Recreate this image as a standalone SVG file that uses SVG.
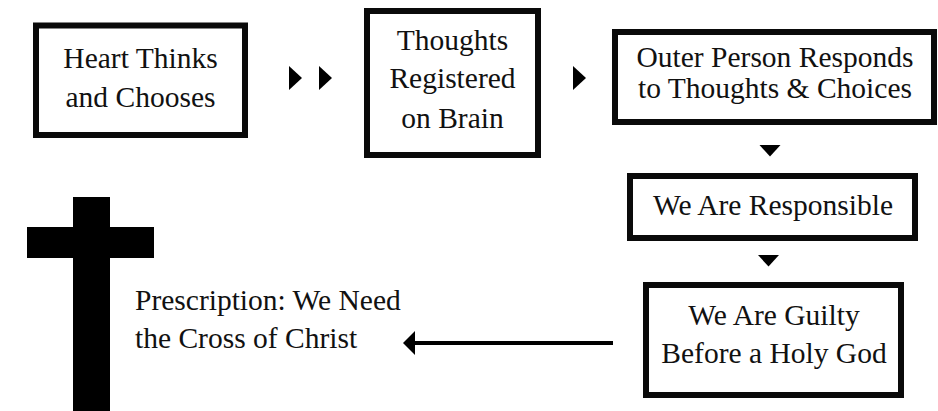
<svg xmlns="http://www.w3.org/2000/svg" xmlns:xlink="http://www.w3.org/1999/xlink" width="938" height="411" viewBox="0 0 938 411">
<style>
.box{fill:#fff;stroke:#0a0a0a;stroke-width:6}
.t{font-family:"Liberation Serif","Times New Roman",serif;font-size:29.5px;fill:#111;text-anchor:middle}
.tl{font-family:"Liberation Serif","Times New Roman",serif;font-size:29.5px;fill:#111}
.tri{fill:#000}
.line{stroke:#000;stroke-width:4;fill:none}
</style>
<defs>
<polygon id="tr" points="0,-12 13,0 0,12" class="tri"/>
<polygon id="td" points="-10.5,0 10.5,0 0,11.5" class="tri"/>
</defs>
<rect width="938" height="411" fill="#fff"/>
<g id="cross">
<rect x="73" y="197" width="37" height="214" fill="#000"/>
<rect x="27" y="227" width="127" height="31" fill="#000"/>
</g>
<g id="node-heart">
<rect class="box" x="36" y="25.5" width="209" height="109.5"/>
<text class="t" x="140.5" y="68">Heart Thinks</text>
<text class="t" x="140.5" y="107">and Chooses</text>
</g>
<g id="node-thoughts">
<rect class="box" x="367" y="11" width="171" height="144"/>
<text class="t" x="452.5" y="50">Thoughts</text>
<text class="t" x="452.5" y="88">Registered</text>
<text class="t" x="452.5" y="128">on Brain</text>
</g>
<g id="node-outer">
<rect class="box" x="615" y="32" width="319" height="90"/>
<text class="t" x="775" y="67">Outer Person Responds</text>
<text class="t" x="775" y="98">to Thoughts &amp; Choices</text>
</g>
<g id="node-responsible">
<rect class="box" x="630" y="176" width="285" height="62"/>
<text class="t" x="773" y="215">We Are Responsible</text>
</g>
<g id="node-guilty">
<rect class="box" x="646" y="285" width="255" height="110"/>
<text class="t" x="774" y="325">We Are Guilty</text>
<text class="t" x="774" y="363">Before a Holy God</text>
</g>
<g id="node-prescription">
<text class="tl" x="135" y="310">Prescription: We Need</text>
<text class="tl" x="135" y="348">the Cross of Christ</text>
</g>
<g id="connectors">
<use xlink:href="#tr" x="289" y="78"/>
<use xlink:href="#tr" x="319" y="78"/>
<use xlink:href="#tr" x="573" y="78"/>
<use xlink:href="#td" x="770" y="145"/>
<use xlink:href="#td" x="768.5" y="255"/>
<line class="line" x1="613" y1="343" x2="413" y2="343"/>
<polygon class="tri" points="403,343 415,331 415,355"/>
</g>
</svg>
